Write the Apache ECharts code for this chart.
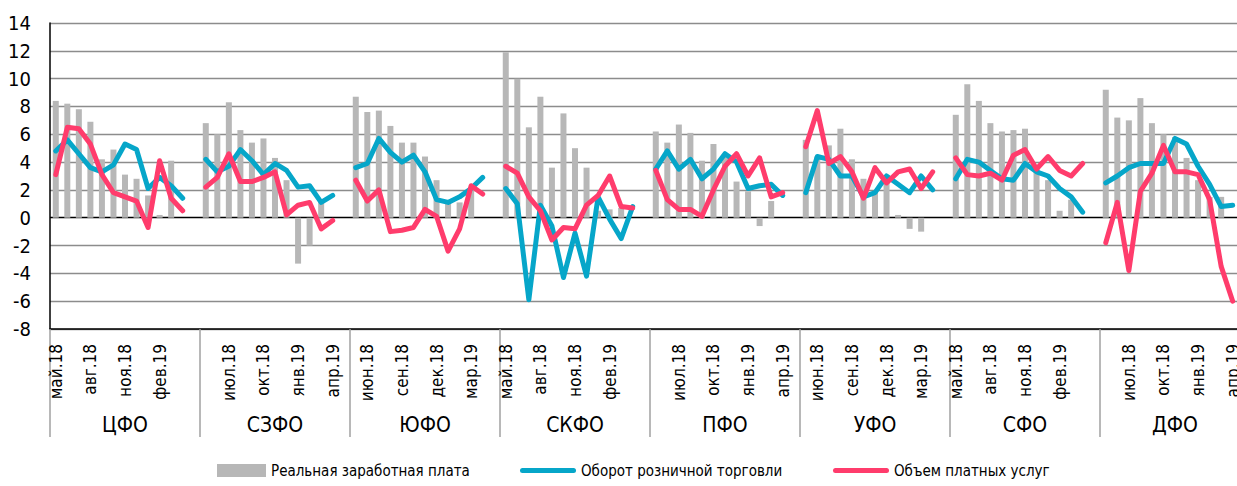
<!DOCTYPE html>
<html>
<head>
<meta charset="utf-8">
<script src="https://cdn.jsdelivr.net/npm/echarts@6/dist/echarts.min.js"></script>
<style>
html,body{margin:0;padding:0;background:#fff;}
#c{width:1237px;height:486px;}
</style>
</head>
<body>
<div id="c"></div>
<script>
const months = ['май.18','июн.18','июл.18','авг.18','сен.18','окт.18','ноя.18','дек.18','янв.19','фев.19','мар.19','апр.19'];
const regions = ['ЦФО','СЗФО','ЮФО','СКФО','ПФО','УФО','СФО','ДФО'];
const yTicks = { min: -8, max: 14, step: 2 };

// Реальная заработная плата (по регионам, май.18 – апр.19)
const wages = [
  [8.4, 8.2, 7.8, 6.9, 4.2, 4.9, 3.1, 2.8, 1.6, 0.2, 4.1, null],
  [6.8, 6.0, 8.3, 6.3, 5.4, 5.7, 4.3, 2.7, -3.3, -2.0, 1.2, null],
  [8.7, 7.6, 7.7, 6.6, 5.4, 5.4, 4.4, 2.7, 1.1, 1.1, 2.0, null],
  [11.9, 10.0, 6.5, 8.7, 3.6, 7.5, 5.0, 3.6, 0.5, 0.6, 0.7, null],
  [6.2, 5.4, 6.7, 6.1, 4.1, 5.3, 4.4, 2.6, 1.9, -0.6, 1.2, null],
  [5.6, 4.4, 5.2, 6.4, 4.2, 2.8, 1.9, 2.7, 0.2, -0.8, -1.0, null],
  [7.4, 9.6, 8.4, 6.8, 6.2, 6.3, 6.4, 3.6, 2.7, 0.5, 1.3, null],
  [9.2, 7.2, 7.0, 8.6, 6.8, 6.0, 5.8, 4.3, 2.7, 1.5, 1.5, null]
];
// Оборот розничной торговли
const retail = [
  [4.8, 5.6, 4.6, 3.6, 3.3, 3.8, 5.3, 4.9, 2.1, 2.9, 2.3, 1.4],
  [4.2, 3.3, 3.7, 4.9, 4.1, 3.1, 3.9, 3.4, 2.2, 2.3, 1.1, 1.6],
  [3.6, 3.9, 5.7, 4.7, 4.0, 4.5, 3.3, 1.3, 1.1, 1.5, 2.1, 2.9],
  [2.1, 1.0, -5.9, 0.9, -0.6, -4.3, -1.1, -4.2, 1.5, -0.1, -1.5, 0.8],
  [3.5, 4.8, 3.5, 4.2, 2.8, 3.5, 4.6, 4.0, 2.1, 2.3, 2.4, 1.6],
  [1.8, 4.4, 4.2, 3.0, 3.0, 1.5, 1.8, 3.0, 2.4, 1.8, 3.0, 2.0],
  [2.8, 4.2, 4.0, 3.4, 2.8, 2.7, 3.9, 3.3, 3.0, 2.1, 1.5, 0.4],
  [2.5, 3.0, 3.6, 3.9, 3.9, 3.9, 5.7, 5.3, 3.7, 2.4, 0.8, 0.9]
];
// Объем платных услуг
const services = [
  [3.1, 6.5, 6.4, 5.3, 3.1, 1.8, 1.5, 1.2, -0.7, 4.1, 1.4, 0.5],
  [2.2, 2.9, 4.6, 2.6, 2.6, 2.9, 3.3, 0.2, 0.9, 1.1, -0.8, -0.2],
  [2.7, 1.2, 2.0, -1.0, -0.9, -0.7, 0.6, 0.1, -2.4, -0.8, 2.3, 1.7],
  [3.7, 3.2, 1.5, 0.5, -1.6, -0.7, -0.8, 0.9, 1.6, 3.0, 0.8, 0.7],
  [3.4, 1.3, 0.6, 0.6, 0.1, 2.0, 3.7, 4.6, 3.0, 4.3, 1.5, 1.8],
  [5.1, 7.7, 3.9, 4.4, 3.3, 1.4, 3.6, 2.5, 3.3, 3.5, 2.1, 3.3],
  [4.3, 3.1, 3.0, 3.2, 2.7, 4.5, 4.9, 3.5, 4.4, 3.4, 3.0, 3.9],
  [-1.8, 1.1, -3.8, 1.9, 3.2, 5.2, 3.3, 3.3, 3.1, 1.3, -3.5, -6.0]
];

// Each region = 12 months + one empty slot (gap between groups)
const categories = [];
regions.forEach(() => { months.forEach(m => categories.push(m)); categories.push(''); });
function flatten(rows) {
  const out = [];
  rows.forEach(r => { r.forEach(v => out.push(v)); out.push(null); });
  return out;
}

const FONT = "'Liberation Sans Narrow','Arial Narrow','DejaVu Sans Condensed','Roboto Condensed',sans-serif";
const gridColors = [];
for (let v = yTicks.min; v <= yTicks.max; v += yTicks.step) gridColors.push(v === 0 ? '#000000' : '#8c8c8c');
const lineIcon = 'path://M0,0 M56,13 M2.5,4 L53.5,4 A2.5,2.5 0 0 1 53.5,9 L2.5,9 A2.5,2.5 0 0 1 2.5,4 Z';
const SERIES_NAMES = ['Реальная заработная плата', 'Оборот розничной торговли', 'Объем платных услуг'];

function legendAt(left, width, name, icon) {
  return {
    left: left, top: 463, padding: 0, itemWidth: width, itemHeight: 13, itemGap: 0,
    textStyle: { fontFamily: FONT, fontSize: 15, color: '#000' },
    data: [{ name: name, icon: icon }]
  };
}

const chart = echarts.init(document.getElementById('c'), null, { renderer: 'svg' });
chart.setOption({
  animation: false,
  textStyle: { fontFamily: FONT, color: '#000' },
  grid: { left: 50, right: -13, top: 23, bottom: 157, containLabel: false, outerBoundsMode: 'none' },
  legend: [
    legendAt(217, 49, SERIES_NAMES[0], 'rect'),
    legendAt(520, 56, SERIES_NAMES[1], lineIcon),
    legendAt(833, 56, SERIES_NAMES[2], lineIcon)
  ],
  xAxis: [
    {
      type: 'category', data: categories, boundaryGap: true,
      axisLine: { onZero: false, lineStyle: { color: '#000', width: 1.5 } },
      axisTick: { show: false },
      axisLabel: { interval: 2, rotate: 90, margin: 15, fontSize: 17, fontFamily: FONT, color: '#000' },
      splitLine: { show: false }
    },
    {
      type: 'category', data: regions, position: 'bottom', boundaryGap: true,
      axisLine: { show: false, onZero: false },
      axisTick: { show: true, length: 108, lineStyle: { color: '#a0a0a0', width: 1.5 } },
      axisLabel: { margin: 85, fontSize: 21, fontFamily: FONT, color: '#000' },
      splitLine: { show: false }
    }
  ],
  yAxis: {
    type: 'value', min: yTicks.min, max: yTicks.max, interval: yTicks.step,
    axisLine: { show: true, lineStyle: { color: '#000', width: 1.5 } },
    axisTick: { show: false },
    axisLabel: { margin: 19, fontSize: 20, fontFamily: FONT, color: '#000' },
    splitLine: { show: true, lineStyle: { color: gridColors, width: 1.3 } }
  },
  series: [
    {
      name: SERIES_NAMES[0], type: 'bar', data: flatten(wages),
      barWidth: 6, itemStyle: { color: '#b7b7b7' }, xAxisIndex: 0
    },
    {
      name: SERIES_NAMES[1], type: 'line', data: flatten(retail),
      symbol: 'none', lineStyle: { color: '#06a6c9', width: 5, cap: 'round', join: 'round' },
      itemStyle: { color: '#06a6c9' }, xAxisIndex: 0
    },
    {
      name: SERIES_NAMES[2], type: 'line', data: flatten(services),
      symbol: 'none', lineStyle: { color: '#ff3c6c', width: 5, cap: 'round', join: 'round' },
      itemStyle: { color: '#ff3c6c' }, xAxisIndex: 0
    }
  ]
});
</script>
</body>
</html>
